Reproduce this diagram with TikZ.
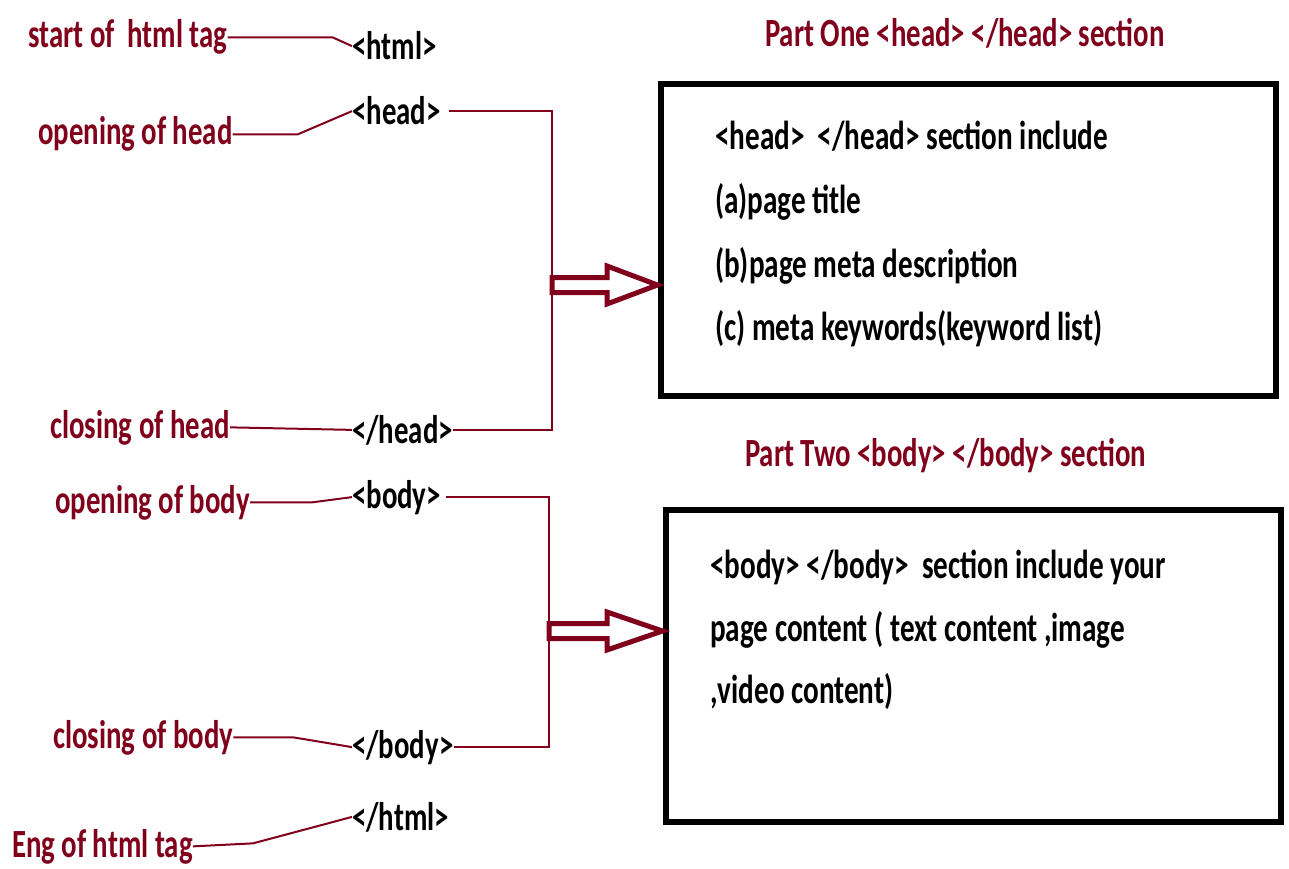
\documentclass[tikz,border=0pt]{standalone}
\usepackage{fontspec}
\setmainfont{Carlito}[FakeStretch=0.72]
\usepackage{tikz}
\usetikzlibrary{calc}
\definecolor{maroon}{RGB}{128,0,28}
\tikzset{
    lbl/.style={anchor=base west,inner sep=0pt,text=maroon,font=\bfseries\fontsize{40}{46}\selectfont},
    tag/.style={anchor=base west,inner sep=0pt,font=\bfseries\fontsize{40}{46}\selectfont},
    txt/.style={anchor=base west,inner sep=0pt,font=\bfseries\fontsize{40.5}{47}\selectfont},
    link/.style={draw=maroon,line width=2},
    partbox/.style={draw,line width=6,minimum width=615,minimum height=312,inner sep=0pt},
    fatarrow/.style={draw=maroon,line width=5,fill=white,line join=miter}
}
\newcommand{\bw}{7.5}
\newcommand{\hw}{19}

\begin{document}
\begin{tikzpicture}[x=1pt,y=-1pt]
\useasboundingbox (0,0) rectangle (1289,869);
\node[lbl] (l1) at (28,48) {start of\ \ html tag};
\node[lbl] (l2) at (38,145) {opening of head};
\node[lbl] (l3) at (50,438) {closing of head};
\node[lbl] (l4) at (55,513) {opening of body};
\node[lbl] (l5) at (53,748) {closing of body};
\node[lbl] (l6) at (12,857) {Eng of html tag};
\node[tag] (t1) at (352,60) {<html>};
\node[tag] (t2) at (352,125) {<head>};
\node[tag] (t3) at (352,443) {</head>};
\node[tag] (t4) at (352,508) {<body>};
\node[tag] (t5) at (352,758) {</body>};
\node[tag] (t6) at (352,830) {</html>};
\node[lbl] (p1) at (765,47) {Part One <head> </head> section};
\node[lbl] (p2) at (745,466) {Part Two <body> </body> section};
\node[partbox] (b1) at (968,240) {};
\node[partbox] (b2) at (973,666) {};
\node[txt] (s1) at (715,150) {<head>\ \ </head> section include};
\node[txt] (s2) at (715,213) {(a)page title};
\node[txt] (s3) at (715,277) {(b)page meta description};
\node[txt] (s4) at (715,340) {(c) meta keywords(keyword list)};
\node[txt] (s5) at (710,578) {<body> </body>\ \ section include your};
\node[txt] (s6) at (710,641) {page content ( text content ,image};
\node[txt] (s7) at (710,703) {,video content)};
\coordinate (k1) at (552,285);
\coordinate (k2) at (549,631);

\draw[link] (l1.east) -- ++(105,0) -- (t1.west);
\draw[link] (l2.east) -- ++(65,0) -- (t2.west);
\draw[link] (l3.east) -- (t3.west);
\draw[link] (l4.east) -- ++(62,0) -- (t4.west);
\draw[link] (l5.east) -- ++(60,0) -- (t5.west);
\draw[link] (l6.east) -- ++(60,-3) -- ++(75,-20) -- (t6.west);
\draw[link] (t2.east) ++(8,0) -- (t2.east -| k1) -- (t3.east -| k1) -- (t3.east);
\draw[link] (t4.east) ++(5,0) -- (t4.east -| k2) -- (t5.east -| k2) -- (t5.east);

\draw[fatarrow] (k1) ++(0,-\bw) -- ++(55,0) -- ++(0,\bw-\hw) -- (b1.west |- k1)
    -- ($(k1)+(55,\hw)$) -- ++(0,\bw-\hw) -- ($(k1)+(0,\bw)$) -- cycle;
\draw[fatarrow] (k2) ++(0,-\bw) -- ++(58,0) -- ++(0,\bw-\hw) -- (b2.west |- k2)
    -- ($(k2)+(58,\hw)$) -- ++(0,\bw-\hw) -- ($(k2)+(0,\bw)$) -- cycle;

\end{tikzpicture}
\end{document}
